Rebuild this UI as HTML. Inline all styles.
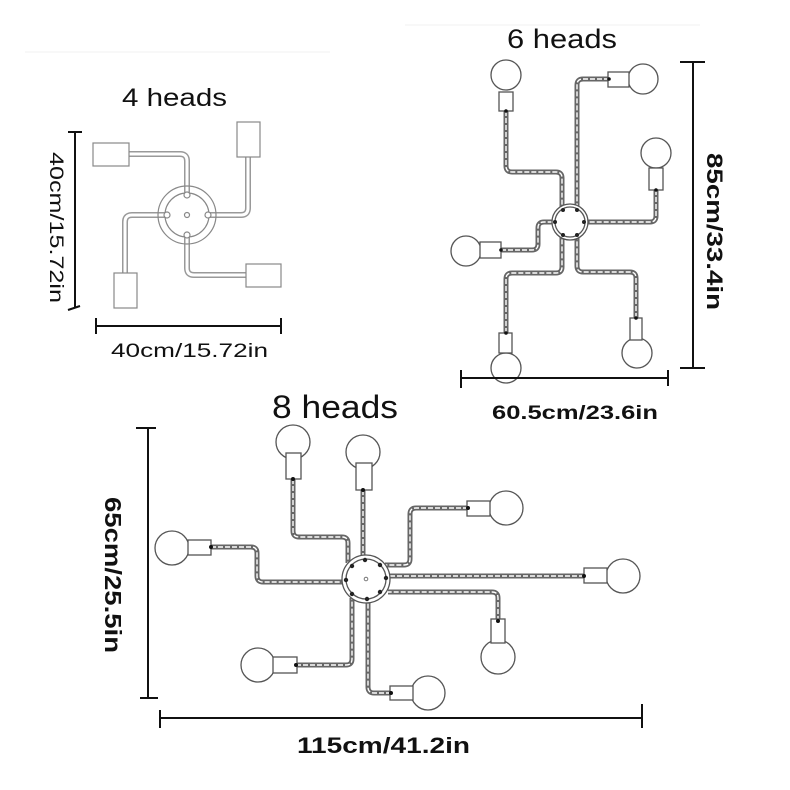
<!DOCTYPE html>
<html><head><meta charset="utf-8"><style>
html,body{margin:0;padding:0;background:#fff}
svg{display:block}
.t{font-family:"Liberation Sans",sans-serif;fill:#111}
.b{font-weight:bold}
.p path{fill:none;stroke:#666;stroke-width:5;stroke-linejoin:round}
.pd path{fill:none;stroke:#fff;stroke-width:1.4;stroke-dasharray:5 2;stroke-linejoin:round}
.q{fill:none;stroke:#999;stroke-width:6;stroke-linejoin:round}
.qd{fill:none;stroke:#fff;stroke-width:3;stroke-linejoin:round}
.o{fill:#fff;stroke:#555;stroke-width:1.3}
.d{stroke:#111;stroke-width:2;fill:none}
</style></head><body>
<svg width="790" height="790" viewBox="0 0 790 790" xmlns="http://www.w3.org/2000/svg">
<rect width="790" height="790" fill="#fff"/>
<line x1="25" y1="52" x2="330" y2="52" stroke="#f0f0f0" stroke-width="1"/>
<line x1="405" y1="25" x2="700" y2="25" stroke="#f0f0f0" stroke-width="1"/>

<!-- 4 heads -->
<text class="t" x="122" y="106" font-size="25" textLength="105" lengthAdjust="spacingAndGlyphs">4 heads</text>
<path class="q" d="M129,154 H180 Q187,154 187,161 V195"/>
<path class="q" d="M248,157 V208 Q248,215 241,215 H208"/>
<path class="q" d="M246,275 H194 Q187,275 187,268 V235"/>
<path class="q" d="M125,273 V222 Q125,215 132,215 H167"/>
<path class="qd" d="M129,154 H180 Q187,154 187,161 V195"/>
<path class="qd" d="M248,157 V208 Q248,215 241,215 H208"/>
<path class="qd" d="M246,275 H194 Q187,275 187,268 V235"/>
<path class="qd" d="M125,273 V222 Q125,215 132,215 H167"/>
<circle cx="187" cy="215" r="29" fill="none" stroke="#888" stroke-width="1.2"/>
<circle cx="187" cy="215" r="22" fill="#fff" stroke="#888" stroke-width="1.2"/>
<g fill="#fff" stroke="#888" stroke-width="1.2">
<circle cx="187" cy="195" r="3"/><circle cx="167" cy="215" r="3"/><circle cx="208" cy="215" r="3"/><circle cx="187" cy="235" r="3"/><circle cx="187" cy="215" r="2.5"/>
<rect x="93" y="143" width="36" height="23"/>
<rect x="237" y="122" width="23" height="35"/>
<rect x="246" y="264" width="35" height="23"/>
<rect x="114" y="273" width="23" height="35"/>
</g>
<path class="d" d="M75,132 V308 M68,132 H82 M68,310 L80,306"/>
<path class="d" d="M96,326 H281 M96,318 V334 M281,318 V334"/>
<text class="t" x="111" y="357" font-size="19" textLength="157" lengthAdjust="spacingAndGlyphs">40cm/15.72in</text>
<text class="t" transform="translate(50,152) rotate(90)" font-size="19" textLength="151" lengthAdjust="spacingAndGlyphs">40cm/15.72in</text>

<!-- 6 heads -->
<text class="t" x="507" y="48" font-size="27" textLength="110" lengthAdjust="spacingAndGlyphs">6 heads</text>
<g class="p">
<path d="M506,111 V166 Q506,172 512,172 H556 Q562,172 562,178 V208"/>
<path d="M609,79 H583 Q577,79 577,85 V208"/>
<path d="M656,190 V216 Q656,222 650,222 H585"/>
<path d="M501,250 H532 Q538,250 538,244 V228 Q538,222 544,222 H555"/>
<path d="M506,333 V279 Q506,273 512,273 H556 Q562,273 562,267 V236"/>
<path d="M636,318 V278 Q636,272 630,272 H583 Q577,272 577,266 V236"/>
</g>
<g class="pd">
<path d="M506,111 V166 Q506,172 512,172 H556 Q562,172 562,178 V208"/>
<path d="M609,79 H583 Q577,79 577,85 V208"/>
<path d="M656,190 V216 Q656,222 650,222 H585"/>
<path d="M501,250 H532 Q538,250 538,244 V228 Q538,222 544,222 H555"/>
<path d="M506,333 V279 Q506,273 512,273 H556 Q562,273 562,267 V236"/>
<path d="M636,318 V278 Q636,272 630,272 H583 Q577,272 577,266 V236"/>
</g>
<circle cx="570" cy="222" r="18" class="o"/>
<circle cx="570" cy="222" r="15" class="o"/>
<g fill="#222">
<circle cx="563" cy="210" r="2"/><circle cx="577" cy="210" r="2"/><circle cx="584" cy="222" r="2"/><circle cx="577" cy="235" r="2"/><circle cx="563" cy="235" r="2"/><circle cx="555" cy="222" r="2"/>
</g>
<g class="o">
<circle cx="506" cy="75" r="15"/><rect x="499" y="92" width="14" height="19"/>
<circle cx="643" cy="79" r="15"/><rect x="608" y="72" width="21" height="15"/>
<circle cx="656" cy="153" r="15"/><rect x="649" y="168" width="14" height="22"/>
<circle cx="466" cy="251" r="15"/><rect x="480" y="242" width="21" height="16"/>
<circle cx="506" cy="368" r="15"/><rect x="499" y="333" width="13" height="20"/>
<circle cx="637" cy="353" r="15"/><rect x="630" y="318" width="12" height="22"/>
</g>
<g fill="#111"><circle cx="506" cy="111" r="1.8"/><circle cx="609" cy="79" r="1.8"/><circle cx="656" cy="190" r="1.8"/><circle cx="501" cy="250" r="1.8"/><circle cx="506" cy="333" r="1.8"/><circle cx="636" cy="318" r="1.8"/></g>
<path class="d" d="M693,62 V368 M680,62 H705 M680,368 H705"/>
<path class="d" d="M461,378 H668 M461,370 V388 M668,370 V386"/>
<text class="t b" transform="translate(707,153) rotate(90)" font-size="22" textLength="157" lengthAdjust="spacingAndGlyphs">85cm/33.4in</text>
<text class="t b" x="492" y="419" font-size="19" textLength="166" lengthAdjust="spacingAndGlyphs">60.5cm/23.6in</text>

<!-- 8 heads -->
<text class="t" x="272" y="418" font-size="32" textLength="126" lengthAdjust="spacingAndGlyphs">8 heads</text>
<g class="p">
<path d="M293,479 V531 Q293,537 299,537 H342 Q348,537 348,543 V563"/>
<path d="M363,490 V560"/>
<path d="M468,508 H416 Q410,508 410,514 V559 Q410,565 404,565 H385"/>
<path d="M584,576 H390"/>
<path d="M498,621 V598 Q498,592 492,592 H388"/>
<path d="M391,693 H374 Q368,693 368,687 V600"/>
<path d="M296,665 H346 Q352,665 352,659 V598"/>
<path d="M211,547 H251 Q257,547 257,553 V576 Q257,582 263,582 H346"/>
</g>
<g class="pd">
<path d="M293,479 V531 Q293,537 299,537 H342 Q348,537 348,543 V563"/>
<path d="M363,490 V560"/>
<path d="M468,508 H416 Q410,508 410,514 V559 Q410,565 404,565 H385"/>
<path d="M584,576 H390"/>
<path d="M498,621 V598 Q498,592 492,592 H388"/>
<path d="M391,693 H374 Q368,693 368,687 V600"/>
<path d="M296,665 H346 Q352,665 352,659 V598"/>
<path d="M211,547 H251 Q257,547 257,553 V576 Q257,582 263,582 H346"/>
</g>
<circle cx="366" cy="579" r="24" class="o"/>
<circle cx="366" cy="579" r="20" class="o"/>
<circle cx="366" cy="579" r="1.8" fill="#fff" stroke="#777"/>
<g fill="#222">
<circle cx="365" cy="560" r="2.2"/><circle cx="380" cy="565" r="2.2"/><circle cx="386" cy="578" r="2.2"/><circle cx="380" cy="592" r="2.2"/><circle cx="367" cy="599" r="2.2"/><circle cx="352" cy="594" r="2.2"/><circle cx="346" cy="580" r="2.2"/><circle cx="352" cy="566" r="2.2"/>
</g>
<g class="o">
<circle cx="293" cy="442" r="17"/><rect x="286" y="453" width="15" height="26"/>
<circle cx="363" cy="452" r="17"/><rect x="356" y="463" width="16" height="27"/>
<circle cx="506" cy="508" r="17"/><rect x="467" y="501" width="23" height="15"/>
<circle cx="623" cy="576" r="17"/><rect x="584" y="568" width="23" height="15"/>
<circle cx="498" cy="657" r="17"/><rect x="491" y="619" width="14" height="24"/>
<circle cx="428" cy="693" r="17"/><rect x="390" y="686" width="23" height="14"/>
<circle cx="258" cy="665" r="17"/><rect x="273" y="657" width="24" height="16"/>
<circle cx="172" cy="548" r="17"/><rect x="188" y="540" width="23" height="15"/>
</g>
<g fill="#111"><circle cx="293" cy="479" r="2"/><circle cx="363" cy="490" r="2"/><circle cx="468" cy="508" r="2"/><circle cx="584" cy="576" r="2"/><circle cx="498" cy="621" r="2"/><circle cx="391" cy="693" r="2"/><circle cx="296" cy="665" r="2"/><circle cx="211" cy="547" r="2"/></g>
<path class="d" d="M148,428 V698 M136,428 H156 M140,698 H158"/>
<path class="d" d="M160,718 H642 M160,710 V728 M642,704 V728"/>
<text class="t b" transform="translate(105,497) rotate(90)" font-size="23" textLength="156" lengthAdjust="spacingAndGlyphs">65cm/25.5in</text>
<text class="t b" x="297" y="753" font-size="22" textLength="173" lengthAdjust="spacingAndGlyphs">115cm/41.2in</text>
</svg>
</body></html>
